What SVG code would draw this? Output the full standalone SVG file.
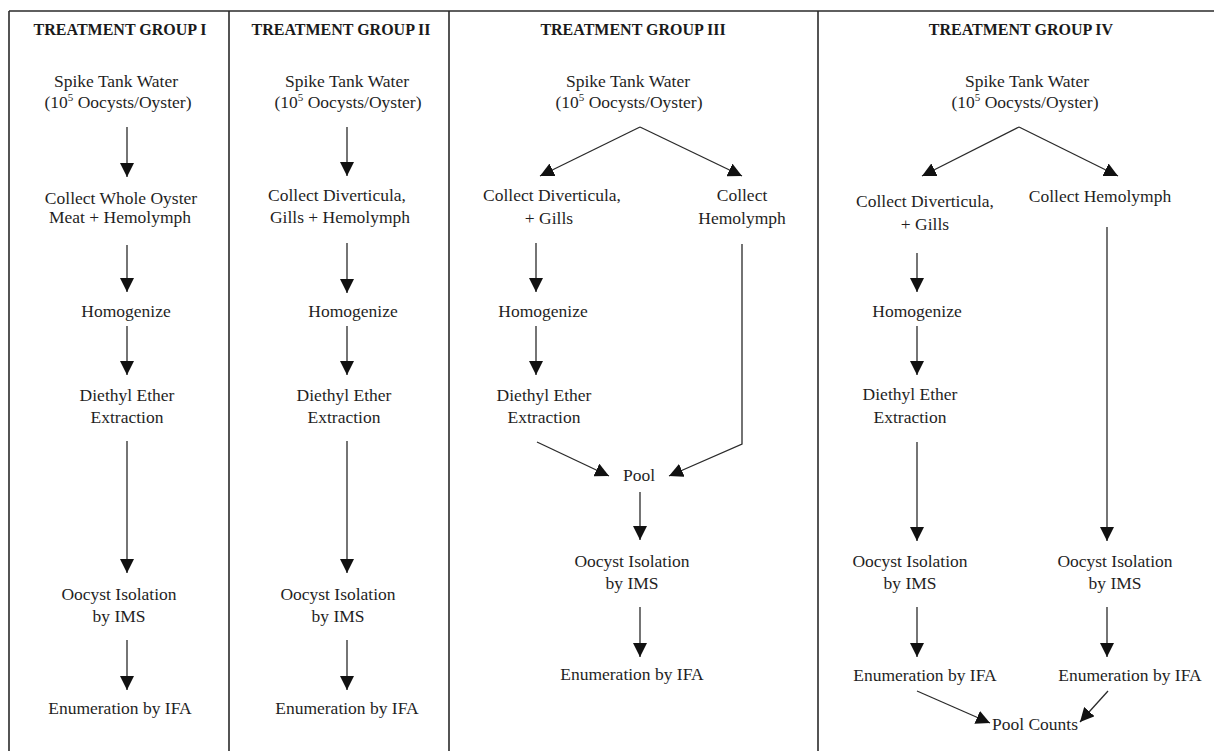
<svg xmlns="http://www.w3.org/2000/svg" width="1214" height="751" viewBox="0 0 1214 751">
<style>
  .frame { stroke: #2a2a2a; stroke-width: 1.6; fill: none; }
  .head { font-family: "Liberation Serif", "Times New Roman", serif; font-weight: bold; font-size: 16px; fill: #1a1a1a; text-anchor: middle; }
  .t { font-family: "Liberation Serif", "Times New Roman", serif; font-size: 17.5px; fill: #1f1f1f; text-anchor: middle; }
  .sup { font-size: 11px; }
  .c { stroke: #2a2a2a; stroke-width: 1.3; fill: none; marker-end: url(#ah); }
</style>
<defs>
  <marker id="ah" viewBox="0 0 14 14" refX="14" refY="7" markerWidth="14" markerHeight="14" orient="auto" markerUnits="userSpaceOnUse">
    <path d="M0,0 L14,7 L0,14 z" fill="#111"/>
  </marker>
</defs>
<rect width="1214" height="751" fill="#ffffff"/>
<g id="frame" class="frame">
  <line x1="9" y1="11" x2="1214" y2="11"/>
  <line x1="9" y1="11" x2="9" y2="751"/>
  <line x1="229" y1="11" x2="229" y2="751"/>
  <line x1="449" y1="11" x2="449" y2="751"/>
  <line x1="818" y1="11" x2="818" y2="751"/>
</g>

<g id="connectors">
  <!-- Group I -->
  <line class="c" x1="127" y1="127" x2="127" y2="177"/>
  <line class="c" x1="127" y1="245" x2="127" y2="292"/>
  <line class="c" x1="127" y1="326" x2="127" y2="375"/>
  <line class="c" x1="127" y1="441" x2="127" y2="573"/>
  <line class="c" x1="127" y1="640" x2="127" y2="690"/>
  <!-- Group II -->
  <line class="c" x1="347" y1="127" x2="347" y2="176"/>
  <line class="c" x1="347" y1="243" x2="347" y2="293"/>
  <line class="c" x1="347" y1="326" x2="347" y2="375"/>
  <line class="c" x1="347" y1="441" x2="347" y2="573"/>
  <line class="c" x1="347" y1="640" x2="347" y2="690"/>
  <!-- Group III -->
  <line class="c" x1="640" y1="127" x2="540" y2="176"/>
  <line class="c" x1="640" y1="127" x2="742" y2="176"/>
  <line class="c" x1="536" y1="243" x2="536" y2="292"/>
  <line class="c" x1="536" y1="326" x2="536" y2="375"/>
  <line class="c" x1="537" y1="442" x2="609" y2="476"/>
  <polyline class="c" points="742,244 742,444 669,476"/>
  <line class="c" x1="640" y1="492" x2="640" y2="540"/>
  <line class="c" x1="640" y1="607" x2="640" y2="657"/>
  <!-- Group IV -->
  <line class="c" x1="1019" y1="127" x2="922" y2="176"/>
  <line class="c" x1="1019" y1="127" x2="1118" y2="176"/>
  <line class="c" x1="917" y1="253" x2="917" y2="292"/>
  <line class="c" x1="917" y1="326" x2="917" y2="375"/>
  <line class="c" x1="917" y1="442" x2="917" y2="541"/>
  <line class="c" x1="917" y1="607" x2="917" y2="657"/>
  <line class="c" x1="1107" y1="227" x2="1107" y2="541"/>
  <line class="c" x1="1107" y1="607" x2="1107" y2="657"/>
  <line class="c" x1="917" y1="691" x2="990" y2="723"/>
  <line class="c" x1="1108" y1="691" x2="1080" y2="722"/>
</g>

<!-- Group I -->
<g id="g1-title"><text class="head" x="120" y="35">TREATMENT GROUP I</text></g>
<g id="g1-spike"><text class="t" x="116" y="87">Spike Tank Water</text><text class="t" x="118" y="108">(10<tspan class="sup" dy="-7">5</tspan><tspan dy="7"> Oocysts/Oyster)</tspan></text></g>
<g id="g1-collect"><text class="t" x="121" y="204">Collect Whole Oyster</text><text class="t" x="120" y="223">Meat + Hemolymph</text></g>
<g id="g1-homog"><text class="t" x="126" y="317">Homogenize</text></g>
<g id="g1-ether"><text class="t" x="127" y="401">Diethyl Ether</text><text class="t" x="127" y="423">Extraction</text></g>
<g id="g1-ims"><text class="t" x="119" y="600">Oocyst Isolation</text><text class="t" x="119" y="622">by IMS</text></g>
<g id="g1-ifa"><text class="t" x="120" y="714">Enumeration by IFA</text></g>

<!-- Group II -->
<g id="g2-title"><text class="head" x="341" y="35">TREATMENT GROUP II</text></g>
<g id="g2-spike"><text class="t" x="347" y="87">Spike Tank Water</text><text class="t" x="348" y="108">(10<tspan class="sup" dy="-7">5</tspan><tspan dy="7"> Oocysts/Oyster)</tspan></text></g>
<g id="g2-collect"><text class="t" x="337" y="201">Collect Diverticula,</text><text class="t" x="340" y="223">Gills + Hemolymph</text></g>
<g id="g2-homog"><text class="t" x="353" y="317">Homogenize</text></g>
<g id="g2-ether"><text class="t" x="344" y="401">Diethyl Ether</text><text class="t" x="344" y="423">Extraction</text></g>
<g id="g2-ims"><text class="t" x="338" y="600">Oocyst Isolation</text><text class="t" x="338" y="622">by IMS</text></g>
<g id="g2-ifa"><text class="t" x="347" y="714">Enumeration by IFA</text></g>

<!-- Group III -->
<g id="g3-title"><text class="head" x="633" y="35">TREATMENT GROUP III</text></g>
<g id="g3-spike"><text class="t" x="628" y="87">Spike Tank Water</text><text class="t" x="629" y="108">(10<tspan class="sup" dy="-7">5</tspan><tspan dy="7"> Oocysts/Oyster)</tspan></text></g>
<g id="g3-collect-dg"><text class="t" x="552" y="201">Collect Diverticula,</text><text class="t" x="549" y="224">+ Gills</text></g>
<g id="g3-collect-h"><text class="t" x="742" y="201">Collect</text><text class="t" x="742" y="224">Hemolymph</text></g>
<g id="g3-homog"><text class="t" x="543" y="317">Homogenize</text></g>
<g id="g3-ether"><text class="t" x="544" y="401">Diethyl Ether</text><text class="t" x="544" y="423">Extraction</text></g>
<g id="g3-pool"><text class="t" x="639" y="481">Pool</text></g>
<g id="g3-ims"><text class="t" x="632" y="567">Oocyst Isolation</text><text class="t" x="632" y="589">by IMS</text></g>
<g id="g3-ifa"><text class="t" x="632" y="680">Enumeration by IFA</text></g>

<!-- Group IV -->
<g id="g4-title"><text class="head" x="1021" y="35">TREATMENT GROUP IV</text></g>
<g id="g4-spike"><text class="t" x="1027" y="87">Spike Tank Water</text><text class="t" x="1025" y="108">(10<tspan class="sup" dy="-7">5</tspan><tspan dy="7"> Oocysts/Oyster)</tspan></text></g>
<g id="g4-collect-dg"><text class="t" x="925" y="207">Collect Diverticula,</text><text class="t" x="925" y="230">+ Gills</text></g>
<g id="g4-collect-h"><text class="t" x="1100" y="202">Collect Hemolymph</text></g>
<g id="g4-homog"><text class="t" x="917" y="317">Homogenize</text></g>
<g id="g4-ether"><text class="t" x="910" y="400">Diethyl Ether</text><text class="t" x="910" y="423">Extraction</text></g>
<g id="g4-ims-l"><text class="t" x="910" y="567">Oocyst Isolation</text><text class="t" x="910" y="589">by IMS</text></g>
<g id="g4-ims-r"><text class="t" x="1115" y="567">Oocyst Isolation</text><text class="t" x="1115" y="589">by IMS</text></g>
<g id="g4-ifa-l"><text class="t" x="925" y="681">Enumeration by IFA</text></g>
<g id="g4-ifa-r"><text class="t" x="1130" y="681">Enumeration by IFA</text></g>
<g id="g4-poolcounts"><text class="t" x="1035" y="730">Pool Counts</text></g>
</svg>
